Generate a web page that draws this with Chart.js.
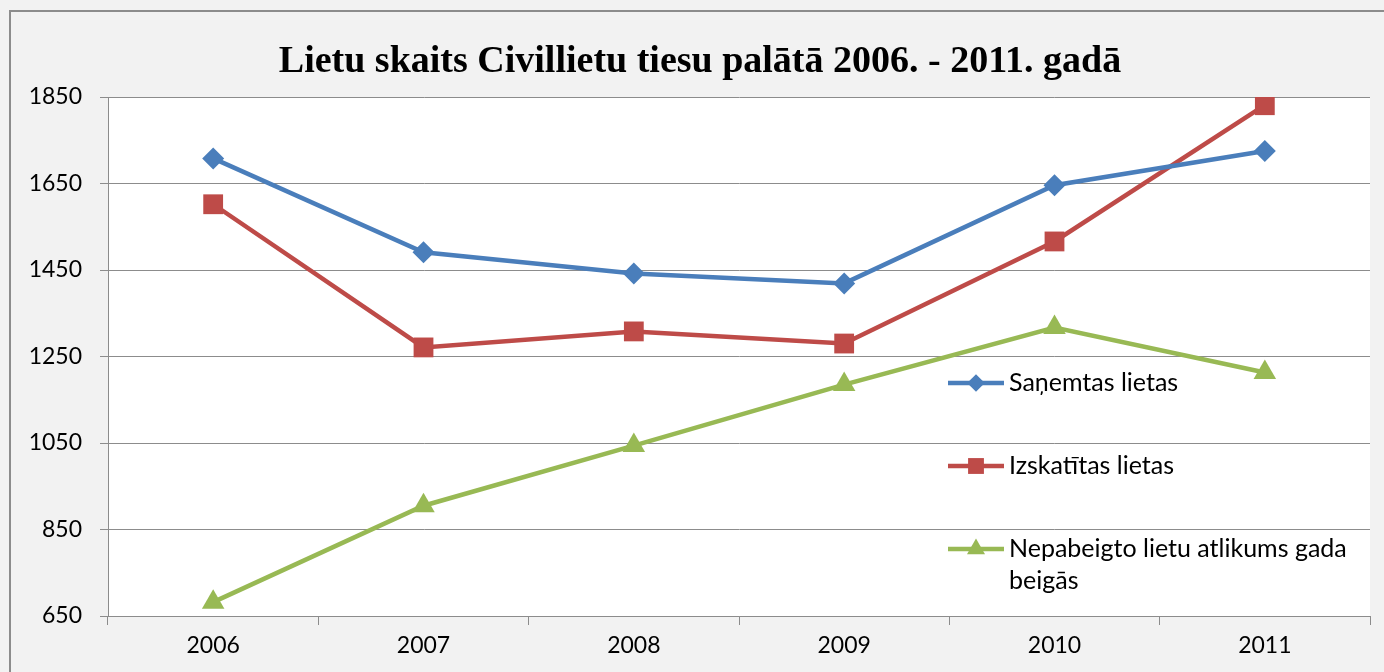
<!DOCTYPE html>
<html>
<head>
<meta charset="utf-8">
<script src="https://cdn.jsdelivr.net/npm/chart.js@4/dist/chart.umd.min.js"></script>
<style>
  html, body { margin: 0; padding: 0; background: #f2f2f2; }
  #wrap { width: 1384px; height: 672px; }
</style>
</head>
<body>
<div id="wrap"><canvas id="lietasChart" width="1384" height="672"></canvas></div>
<script>
const years = ['2006', '2007', '2008', '2009', '2010', '2011'];
const sanemtas = [1708, 1491, 1442, 1419, 1646, 1725];
const izskatitas = [1602, 1271, 1308, 1280, 1516, 1831];
const nepabeigto = [682, 905, 1044, 1185, 1317, 1213];
const yTicks = [650, 850, 1050, 1250, 1450, 1650, 1850];
const chartTitle = 'Lietu skaits Civillietu tiesu palātā 2006. - 2011. gadā';

const tickFont = { family: 'Lato, "Open Sans", sans-serif', size: 23 };

// background, frame and white plot area
const backdrop = {
  id: 'backdrop',
  beforeDraw(chart) {
    const { ctx, chartArea: a } = chart;
    ctx.save();
    ctx.fillStyle = '#f2f2f2';
    ctx.fillRect(0, 0, chart.width, chart.height);
    ctx.strokeStyle = '#8c8c8c';
    ctx.lineWidth = 2;
    ctx.strokeRect(10, 11, 1500, 800);
    ctx.fillStyle = '#ffffff';
    ctx.fillRect(a.left, a.top, a.right - a.left, a.bottom - a.top);
    // title, centred on the whole frame
    ctx.fillStyle = '#000000';
    ctx.font = 'bold 38px "Liberation Serif", "Times New Roman", serif';
    ctx.textAlign = 'center';
    ctx.textBaseline = 'middle';
    ctx.fillText(chartTitle, 700, 62);
    ctx.restore();
  }
};

// legend drawn inside the plot, like the original
const innerLegend = {
  id: 'innerLegend',
  afterDraw(chart) {
    const { ctx } = chart;
    const rows = [
      { ds: 0, y: 383, lines: ['Saņemtas lietas'] },
      { ds: 1, y: 466, lines: ['Izskatītas lietas'] },
      { ds: 2, y: 549, lines: ['Nepabeigto lietu atlikums gada', 'beigās'] }
    ];
    ctx.save();
    rows.forEach(r => {
      const d = chart.data.datasets[r.ds];
      ctx.strokeStyle = d.borderColor;
      ctx.lineWidth = 4.5;
      ctx.beginPath();
      ctx.moveTo(948, r.y);
      ctx.lineTo(1004, r.y);
      ctx.stroke();
      ctx.fillStyle = d.pointBackgroundColor;
      Chart.helpers.drawPoint(ctx, { pointStyle: d.pointStyle, radius: d.pointRadius * 0.8, rotation: 0, borderWidth: 0 }, 976, r.y);
      ctx.fillStyle = '#000000';
      ctx.font = '25px Lato, "Open Sans", sans-serif';
      ctx.textBaseline = 'middle';
      ctx.textAlign = 'left';
      r.lines.forEach((t, i) => ctx.fillText(t, 1009, r.y + i * 32));
    });
    ctx.restore();
  }
};

new Chart(document.getElementById('lietasChart'), {
  type: 'line',
  data: {
    labels: years,
    datasets: [
      {
        label: 'Saņemtas lietas',
        data: sanemtas,
        borderColor: '#4a7ebb',
        backgroundColor: '#4a7ebb',
        pointBackgroundColor: '#4a7ebb',
        pointBorderWidth: 0,
        pointStyle: 'rectRot',
        pointRadius: 11,
        borderWidth: 4.5,
        tension: 0
      },
      {
        label: 'Izskatītas lietas',
        data: izskatitas,
        borderColor: '#be4b48',
        backgroundColor: '#be4b48',
        pointBackgroundColor: '#be4b48',
        pointBorderWidth: 0,
        pointStyle: 'rect',
        pointRadius: 14,
        borderWidth: 4.5,
        tension: 0
      },
      {
        label: 'Nepabeigto lietu atlikums gada beigās',
        data: nepabeigto,
        borderColor: '#98b954',
        backgroundColor: '#98b954',
        pointBackgroundColor: '#98b954',
        pointBorderWidth: 0,
        pointStyle: 'triangle',
        pointRadius: 13,
        borderWidth: 4.5,
        tension: 0
      }
    ]
  },
  options: {
    responsive: false,
    animation: false,
    events: [],
    layout: { padding: { left: 0, right: 14, top: 97, bottom: 0 } },
    plugins: {
      legend: { display: false },
      tooltip: { enabled: false },
      title: { display: false }
    },
    scales: {
      x: {
        offset: true,
        grid: { offset: true, drawOnChartArea: false, drawTicks: true, tickLength: 9, color: '#8c8c8c' },
        border: { color: '#8c8c8c' },
        ticks: { color: '#000000', font: tickFont, padding: 7 },
        afterFit(scale) { scale.height = 56; }
      },
      y: {
        min: 650,
        max: 1850,
        afterBuildTicks(scale) { scale.ticks = yTicks.map(v => ({ value: v })); },
        grid: { color: '#8c8c8c', tickLength: 8 },
        border: { color: '#8c8c8c' },
        ticks: { color: '#000000', font: tickFont, padding: 18, callback: v => String(v) },
        afterFit(scale) { scale.width = 108; }
      }
    }
  },
  plugins: [backdrop, innerLegend]
});
</script>
</body>
</html>
